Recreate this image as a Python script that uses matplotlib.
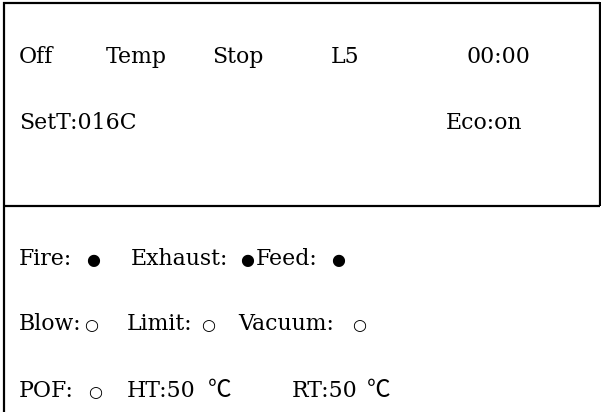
import matplotlib.pyplot as plt
from matplotlib.lines import Line2D

# panel texts, one list per display row
status_row = ["Off", "Temp", "Stop", "L5", "00:00"]
setpoint_row = ["SetT:016C", "Eco:on"]
output_row = ["Fire:", "●", "Exhaust:", "●", "Feed:", "●"]
input_row = ["Blow:", "○", "Limit:", "○", "Vacuum:", "○"]
temp_row = ["POF:", "○", "HT:50", "℃", "RT:50", "℃"]

rows = [status_row, setpoint_row, output_row, input_row, temp_row]

# layout (pixels)
row_y = [63, 129, 265, 330, 397]
row_x = [
    [19, 106, 212, 331, 467],
    [19, 446],
    [19, 86, 131, 240, 256, 331],
    [19, 84, 127, 201, 238, 352],
    [19, 88, 127, 208, 292, 367],
]

W, H = 601, 412
fig = plt.figure(figsize=(W / 100, H / 100), dpi=100)
ax = fig.add_axes([0, 0, 1, 1])
ax.set_xlim(0, W)
ax.set_ylim(H, 0)
ax.axis('off')

lw = 2.2 * 72 / 100
def line(xs, ys):
    ax.add_line(Line2D(xs, ys, color='black', lw=lw, solid_capstyle='butt'))

line([4, 4], [2, H])
line([3, 600], [3, 3])
line([599.5, 599.5], [2, 206])
line([3, 600], [206, 206])

fs = 15.8
for labels, xs, y in zip(rows, row_x, row_y):
    for t, x in zip(labels, xs):
        if t in ("●", "○"):
            fam = ['DejaVu Sans']
            size = 11.5
        elif t == "℃":
            fam = ['Noto Sans CJK SC', 'DejaVu Sans']
            size = 17
        else:
            fam = ['DejaVu Serif']
            size = fs
        ax.text(x, y, t, fontsize=size, family=fam, va='baseline', ha='left', color='black')

fig.savefig('out.png', dpi=100)
